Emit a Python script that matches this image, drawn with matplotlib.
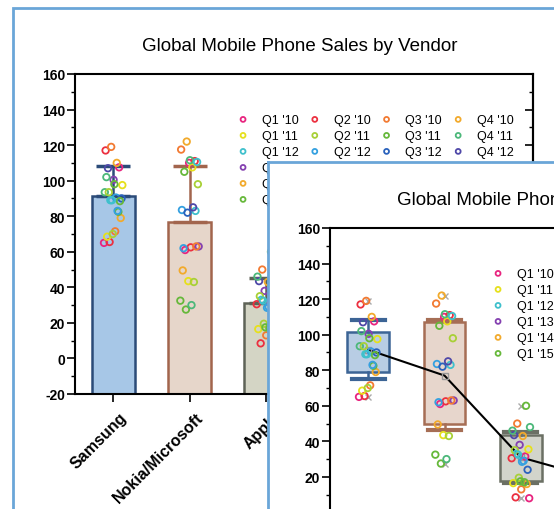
import matplotlib
matplotlib.use("Agg")
import matplotlib.pyplot as plt
import matplotlib.transforms as mtransforms
import numpy as np
from matplotlib.patches import Rectangle
from matplotlib.ticker import MultipleLocator

plt.rcParams["font.family"] = ["Liberation Sans", "DejaVu Sans"]
plt.rcParams["axes.unicode_minus"] = False

# ---- data (million units per quarter) ----
vendors = ["Samsung", "Nokia/Microsoft", "Apple", "LG", "ZTE", "Huawei"]
quarters = [f"Q{q} '{y}" for y in range(10, 16) for q in range(1, 5)]

samsung = [65, 65.5, 71.5, 79, 68.5, 70, 82.5, 93.5, 89, 90.5, 90, 107,
           100.5, 107.5, 117, 119, 110, 97.5, 93.5, 98, 88.5, 102, 89, 83]
nokia = [110, 111, 117.5, 122, 107.5, 98, 105, 111.5, 83, 83.5, 82, 85,
         63, 61, 62.5, 63, 49.5, 43.5, 43, 32.5, 27.5, 30, 110.5, 62]
apple = [8, 8.5, 13, 16, 16.5, 19.5, 17, 48, 33, 28.5, 24, 43.5,
         38, 31.5, 30.5, 50, 43, 35.5, 35, 17.5, 60, 46, 32.5, 29]
lg = [27, 30, 28, 27, 24, 24, 21, 17, 14, 14, 14, 15,
      15, 17, 12, 13, 12, 15, 14, 16, 14, 14, 15, 14]
zte = [12, 13, 14, 15, 15, 16, 17, 18, 17, 16, 15, 14,
       13, 12, 12, 13, 14, 13, 12, 12, 13, 14, 13, 12]
huawei = [6, 7, 8, 9, 10, 10, 11, 12, 12, 12, 13, 13,
          12, 11, 12, 13, 13, 14, 15, 16, 15, 14, 15, 16]
sales = [samsung, nokia, apple, lg, zte, huawei]

means = [91.5, 77.0, 31.0, 19.0, 14.0, 12.0]
upper = [108, 108, 45.5, 27, 18, 16]      # bar error top / box upper whisker
box_q1 = [79, 49.5, 17.5, 14, 12.5, 10]
box_q3 = [101.5, 107, 43.5, 24, 15.5, 14.5]
whis_lo = [75, 46.5, 16.5, 12, 12, 7]

# ---- styles ----
q_colors = ["#e8247f", "#ec3040", "#f27a32", "#f2aa2c", "#e6e01c", "#a8d036",
            "#66b83a", "#4cb87a", "#3ec0cc", "#34a0e0", "#2a62bc", "#4f48a8",
            "#8440b0", "#e8247f", "#ec3040", "#f27a32", "#f2aa2c", "#e6e01c",
            "#a8d036", "#66b83a", "#66b83a", "#4cb87a", "#3ec0cc", "#34a0e0"]
bar_fill = ["#a7c7e7", "#e6d6ca", "#d4d5c5", "#f3c6b5", "#c9e0b8", "#e3c8e6"]
bar_edge = ["#2b4b78", "#a2654d", "#5e6357", "#b06040", "#5a8040", "#805090"]
box_fill = ["#b8cde4", "#e7d6cc", "#d2d4cb", "#f3c6b5", "#c9e0b8", "#e3c8e6"]
box_edge = ["#3c6495", "#a66e55", "#6b7064", "#b06040", "#5a8040", "#805090"]
win_blue = "#6aa6d8"
title = "Global Mobile Phone Sales by Vendor"

W, H = 554, 510
fig = plt.figure(figsize=(W / 100, H / 100), dpi=100)
fig.patch.set_facecolor("white")

x = np.arange(1, len(vendors) + 1)
nq = len(quarters)
# fixed jitter pattern for the dots
jit = np.array([[((i * 7 + j * 11) % nq) / (nq - 1) - 0.5 for j in range(len(vendors))]
                for i in range(nq)]) * 0.24


def ax_rect(left, top):
    return [left / W, 1 - (top + 320) / H, 458 / W, 320 / H]


def style(ax):
    ax.set_xlim(0.5, 6.5)
    ax.set_ylim(-20, 160)
    ax.yaxis.set_major_locator(MultipleLocator(20))
    ax.yaxis.set_minor_locator(MultipleLocator(10))
    ax.tick_params(axis="y", which="major", length=5.5, width=1.2, pad=1.5,
                   labelsize=10, direction="out")
    ax.tick_params(axis="y", which="minor", length=3, width=1.0, direction="out")
    ax.tick_params(axis="x", length=5.5, width=1.2, direction="out", labelsize=11.5)
    for lab in ax.get_yticklabels():
        lab.set_fontweight("bold")
    for s in ax.spines.values():
        s.set_linewidth(1.5)
    ax.set_xticks(x)
    ax.set_xticklabels(vendors, rotation=45, ha="right", fontweight="bold")
    off = mtransforms.ScaledTranslation(0.17, -0.03, fig.dpi_scale_trans)
    for lab in ax.get_xticklabels():
        lab.set_transform(lab.get_transform() + off)
    # inward ticks on the right spine
    sec = ax.secondary_yaxis("right")
    sec.yaxis.set_major_locator(MultipleLocator(20))
    sec.yaxis.set_minor_locator(MultipleLocator(10))
    sec.tick_params(which="major", direction="in", length=5.5, width=1.2, labelright=False)
    sec.tick_params(which="minor", direction="in", length=3, width=1.0)
    sec.spines["right"].set_linewidth(1.5)
    ax.text(0.491, 1 + 28 / 320, title, transform=ax.transAxes,
            ha="center", va="center", fontsize=13.5)


def scatter_and_legend(ax):
    handles = []
    for i in range(nq):
        vals = [s[i] for s in sales]
        h = ax.scatter(x + jit[i], vals, s=22, facecolors="none",
                       edgecolors=q_colors[i], linewidths=1.3, zorder=5,
                       label=quarters[i])
        handles.append(h)
    order = [r * 4 + c for c in range(4) for r in range(6)]
    ax.legend([handles[k] for k in order], [quarters[k] for k in order],
              ncol=4, loc="upper left", bbox_to_anchor=(0.356, 0.876),
              frameon=False, fontsize=9, borderpad=0, borderaxespad=0,
              handlelength=0.8, handletextpad=1.1, columnspacing=0.9,
              labelspacing=0.32, markerscale=0.75)


# ---- window 1: bar chart ----
fig.add_artist(Rectangle((13 / W, -0.3), 1.0, 1 - 9 / H + 0.3,
                         transform=fig.transFigure, facecolor="white",
                         edgecolor=win_blue, linewidth=2, zorder=-1))
ax1 = fig.add_axes(ax_rect(75, 75))
ax1.bar(x, np.array(means) + 20, bottom=-20, width=0.56, color=bar_fill,
        edgecolor=bar_edge, linewidth=1.8, zorder=2)
for i in range(len(vendors)):
    ax1.errorbar(x[i], means[i], yerr=[[0], [upper[i] - means[i]]], fmt="none",
                 ecolor=bar_edge[i], elinewidth=1.8, capsize=12, capthick=2.5, zorder=3)
style(ax1)
scatter_and_legend(ax1)

# ---- window 2: box chart on top ----
win2 = fig.add_axes([268 / W, -0.3, 1.0, 1 - 163 / H + 0.3])
win2.set_zorder(5)
win2.set_facecolor("white")
win2.set_xticks([])
win2.set_yticks([])
for s in win2.spines.values():
    s.set_color(win_blue)
    s.set_linewidth(2)

ax2 = fig.add_axes(ax_rect(330, 229))
ax2.set_zorder(6)
stats = [dict(med=box_q1[i], q1=box_q1[i], q3=box_q3[i], whislo=whis_lo[i],
              whishi=upper[i], fliers=[]) for i in range(len(vendors))]
bp = ax2.bxp(stats, positions=x, widths=0.55, capwidths=0.43, patch_artist=True,
             showfliers=False, manage_ticks=False,
             medianprops=dict(linewidth=0), zorder=2)
for i in range(len(vendors)):
    bp["boxes"][i].set(facecolor=box_fill[i], edgecolor=box_edge[i], linewidth=1.8)
    for k in (2 * i, 2 * i + 1):
        bp["whiskers"][k].set(color=box_edge[i], linewidth=1.8)
        bp["caps"][k].set(color=box_edge[i], linewidth=3)
ax2.plot(x, means, color="black", lw=1.5, zorder=4)
ax2.plot(x, means, "s", mfc="none", mec="#999999", ms=4, zorder=4)
ax2.plot(x, [max(v) for v in sales], "x", color="#aaaaaa", ms=4, zorder=4)
ax2.plot(x, [min(v) for v in sales], "x", color="#aaaaaa", ms=4, zorder=4)
style(ax2)
scatter_and_legend(ax2)

fig.savefig("out.png", dpi=100)
